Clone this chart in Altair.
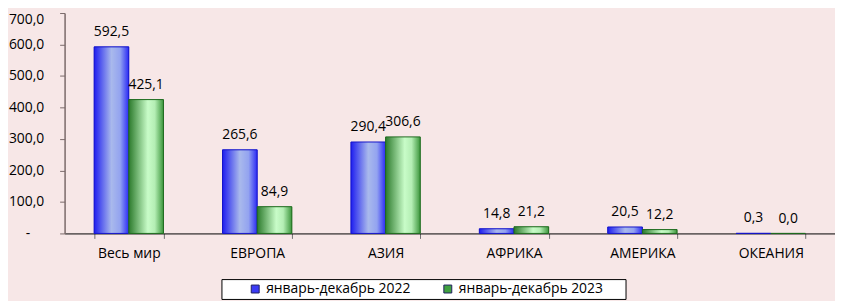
import altair as alt
import pandas as pd

categories = ["Весь мир", "ЕВРОПА", "АЗИЯ", "АФРИКА", "АМЕРИКА", "ОКЕАНИЯ"]
series = ["январь-декабрь 2022", "январь-декабрь 2023"]
v2022 = [592.5, 265.6, 290.4, 14.8, 20.5, 0.3]
v2023 = [425.1, 84.9, 306.6, 21.2, 12.2, 0.0]
y_ticks = [0, 100, 200, 300, 400, 500, 600, 700]

rows = []
for c, a, b in zip(categories, v2022, v2023):
    rows.append({"cat": c, "series": series[0], "value": a, "label": f"{a:.1f}".replace(".", ",")})
    rows.append({"cat": c, "series": series[1], "value": b, "label": f"{b:.1f}".replace(".", ",")})
df = pd.DataFrame(rows)

FONT = "Open Sans"
FS = 14

x = alt.X("cat:N", sort=categories,
          scale=alt.Scale(paddingInner=0.46, paddingOuter=0.23),
          axis=alt.Axis(title=None, labelAngle=0, tickBand="extent", domainColor="black",
                        tickColor="#707070", tickSize=5, labelFontSize=FS, labelPadding=8,
                        labelColor="black", labelFont=FONT))
xo = alt.XOffset("series:N", sort=series,
                 scale=alt.Scale(domain=series, paddingInner=0, paddingOuter=0))
y = alt.Y("value:Q", scale=alt.Scale(domain=[0, 700], nice=False),
          axis=alt.Axis(title=None, values=y_ticks, grid=False, domainColor="#7A6A6A",
                        domainWidth=1.5, tickColor="#7A6A6A", tickSize=5, labelFontSize=FS,
                        labelColor="black", labelFont=FONT,
                        labelBaseline={"condition": {"test": "datum.value == 700", "value": "top"}, "value": "middle"},
                        labelPadding={"condition": {"test": "datum.value == 0", "value": 30}, "value": 16},
                        labelExpr="datum.value == 0 ? '-' : replace(format(datum.value, '.1f'), '.', ',')"))

base = alt.Chart(df)

legend_bars = base.mark_bar().encode(
    x=x, xOffset=xo, y=y,
    color=alt.Color("series:N", sort=series,
                    scale=alt.Scale(domain=series, range=["#3B3BF5", "#3FA03F"]),
                    legend=alt.Legend(title="\u00a0", titleOrient="right", titlePadding=20,
                                      titleFontSize=FS,
                                      orient="none", legendX=158, legendY=268,
                                      direction="horizontal", fillColor="white",
                                      strokeColor="black", padding=3, columnPadding=6,
                                      symbolOffset=24,
                                      labelFontSize=FS, labelFont=FONT, labelColor="black",
                                      symbolType="square", symbolSize=64,
                                      symbolStrokeColor="#202060", symbolStrokeWidth=1,
                                      labelOffset=4)),
)

blue_grad = alt.LinearGradient(gradient="linear", x1=0, x2=1, y1=0, y2=0, stops=[
    alt.GradientStop(offset=0, color="#1E1EF0"),
    alt.GradientStop(offset=0.5, color="#A9B9EC"),
    alt.GradientStop(offset=0.75, color="#93A3F0"),
    alt.GradientStop(offset=1, color="#2A2AF5")])
green_grad = alt.LinearGradient(gradient="linear", x1=0, x2=1, y1=0, y2=0, stops=[
    alt.GradientStop(offset=0, color="#2C7A2C"),
    alt.GradientStop(offset=0.55, color="#C8FCC8"),
    alt.GradientStop(offset=0.75, color="#B4EEB4"),
    alt.GradientStop(offset=1, color="#3C963C")])

b1 = base.transform_filter(alt.datum.series == series[0]).mark_bar(
    fill=blue_grad, stroke="#1414C8", strokeWidth=1).encode(x=x, xOffset=xo, y=y)
b2 = base.transform_filter(alt.datum.series == series[1]).mark_bar(
    fill=green_grad, stroke="#1E6A1E", strokeWidth=1).encode(x=x, xOffset=xo, y=y)

labels = base.mark_text(baseline="alphabetic", dy=-11, fontSize=FS, font=FONT, color="black").encode(
    x=x, xOffset=xo, y=y, text="label:N")

chart = alt.layer(legend_bars, b1, b2, labels).properties(
    width=776, height=222, background="#F7E7E7",
    padding={"left": 0, "top": 3, "right": 0, "bottom": 0},
).configure_view(stroke=None)

chart.save("out.html", embed_options={"renderer": "svg", "actions": False})
